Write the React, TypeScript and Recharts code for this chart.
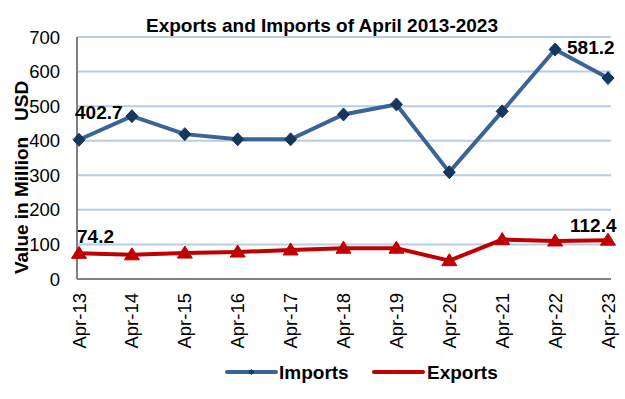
import React from 'react';
import { LineChart, Line, XAxis, YAxis, CartesianGrid, Legend, LabelList } from 'recharts';

const categories = ['Apr-13', 'Apr-14', 'Apr-15', 'Apr-16', 'Apr-17', 'Apr-18', 'Apr-19', 'Apr-20', 'Apr-21', 'Apr-22', 'Apr-23'];
const imports = [402.7, 471, 419, 404, 404, 476, 505, 309, 485, 664, 581.2];
const exportsVals = [74.2, 70, 75, 78, 84, 89, 89, 53, 114, 110, 112.4];
const yTicks = [0, 100, 200, 300, 400, 500, 600, 700];

const data = categories.map((c, i) => ({ cat: c, imports: imports[i], exports: exportsVals[i] }));

const FONT = '"Liberation Sans", Arial, sans-serif';
const IMP_LINE = '#3a6496';
const IMP_DOT = '#17365d';
const EXP = '#c00000';
const BOLD = 19;
const TICK = 18.5;

const Diamond = (props: any) => {
  const { cx, cy } = props;
  if (cx == null || cy == null) return null;
  return <polygon points={`${cx},${cy - 6.5} ${cx + 6},${cy} ${cx},${cy + 6.5} ${cx - 6},${cy}`} fill={IMP_DOT} stroke={IMP_DOT} />;
};

const Triangle = (props: any) => {
  const { cx, cy } = props;
  if (cx == null || cy == null) return null;
  return <polygon points={`${cx},${cy - 7} ${cx + 7.5},${cy + 5} ${cx - 7.5},${cy + 5}`} fill={EXP} stroke={EXP} />;
};

const XTick = (props: any) => {
  const { x, y, payload } = props;
  const ty = y + 14;
  return (
    <text x={x} y={ty} transform={`rotate(-90, ${x}, ${ty})`} textAnchor="end" dominantBaseline="central"
      fontSize={TICK} fontFamily={FONT} fill="#000">{payload.value}</text>
  );
};

const makeLabel = (offsets: Record<number, [number, number]>) => (props: any) => {
  const { x, y, value, index } = props;
  const off = offsets[index];
  if (!off) return null;
  return (
    <text x={x + off[0]} y={y + off[1]} fontSize={BOLD} fontWeight="bold" fontFamily={FONT} fill="#000">{value}</text>
  );
};

const impLabel = makeLabel({ 0: [-4, -21], 10: [-41, -24] });
const expLabel = makeLabel({ 0: [-2, -10], 10: [-38, -8] });

const LegendContent = () => (
  <div style={{ position: 'relative', width: 625, height: 40, fontFamily: FONT }}>
    <svg width={625} height={40} style={{ position: 'absolute', left: 0, top: 0 }}>
      <line x1={227} y1={20} x2={276} y2={20} stroke={IMP_LINE} strokeWidth={4} strokeLinecap="round" />
      <polygon points="251.5,17 254.5,20 251.5,23 248.5,20" fill={IMP_DOT} />
      <text x={279} y={20} dominantBaseline="central" fontSize={BOLD} fontWeight="bold" fontFamily={FONT} fill="#000">Imports</text>
      <line x1={374} y1={20} x2={423} y2={20} stroke={EXP} strokeWidth={4} strokeLinecap="round" />
      <polygon points="398.5,17.5 401.5,21.5 395.5,21.5" fill={EXP} />
      <text x={427} y={20} dominantBaseline="central" fontSize={BOLD} fontWeight="bold" fontFamily={FONT} fill="#000">Exports</text>
    </svg>
  </div>
);

export default function App() {
  return (
    <div style={{ position: 'absolute', left: 0, top: 0, background: '#fff' }}>
      <LineChart width={625} height={399} data={data} margin={{ top: 37, right: 14, bottom: 7, left: 0 }}>
        <text x={322} y={32} textAnchor="middle" fontSize={BOLD} fontWeight="bold" fontFamily={FONT} fill="#000">
          Exports and Imports of April 2013-2023
        </text>
        <text x={21} y={177.5} transform="rotate(-90, 21, 177.5)" textAnchor="middle" dominantBaseline="central"
          fontSize={BOLD} fontWeight="bold" fontFamily={FONT} fill="#000" style={{ whiteSpace: 'pre' }}>{'Value in Million   USD'}</text>
        <CartesianGrid horizontal vertical={false} stroke="#b8cce4" strokeWidth={2} />
        <XAxis dataKey="cat" height={73} interval={0} tickSize={0} tickMargin={0} tick={<XTick />}
          padding={{ left: 2, right: 3 }} axisLine={{ stroke: '#808080', strokeWidth: 2 }} tickLine={false} />
        <YAxis width={77} domain={[0, 700]} ticks={yTicks} interval={0} tickSize={0} tickMargin={17}
          tick={{ fontSize: TICK, fontFamily: FONT, fill: '#000' }} axisLine={{ stroke: '#808080', strokeWidth: 2 }} tickLine={false} />
        <Legend verticalAlign="bottom" height={40} content={<LegendContent />} wrapperStyle={{ left: 0, width: 625 }} />
        <Line dataKey="imports" name="Imports" stroke={IMP_LINE} strokeWidth={4} dot={<Diamond />} activeDot={false} isAnimationActive={false}>
          <LabelList dataKey="imports" content={impLabel} />
        </Line>
        <Line dataKey="exports" name="Exports" stroke={EXP} strokeWidth={4} dot={<Triangle />} activeDot={false} isAnimationActive={false}>
          <LabelList dataKey="exports" content={expLabel} />
        </Line>
      </LineChart>
    </div>
  );
}
